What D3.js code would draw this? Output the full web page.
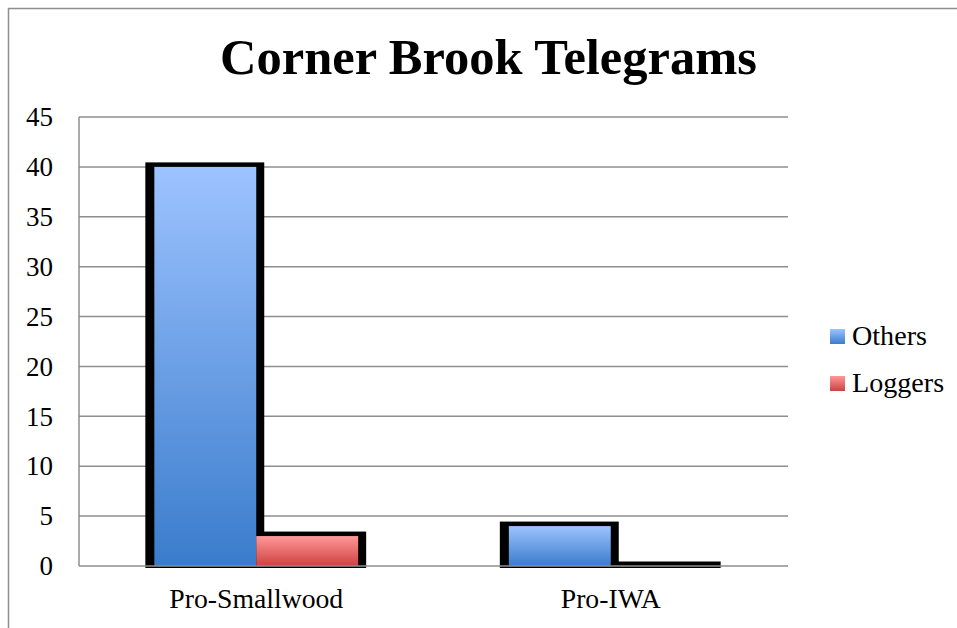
<!DOCTYPE html>
<html>
<head>
<meta charset="utf-8">
<script src="https://cdn.jsdelivr.net/npm/d3@7/dist/d3.min.js"></script>
<style>
  html, body { margin: 0; padding: 0; background: #fff; }
  svg { display: block; }
  text { font-family: "Liberation Serif", "DejaVu Serif", serif; fill: #000; }
</style>
</head>
<body>
<svg id="chart" width="957" height="628"></svg>
<script>
const title = "Corner Brook Telegrams";
const categories = ["Pro-Smallwood", "Pro-IWA"];
const seriesNames = ["Others", "Loggers"];
const othersValues = [40, 4];
const loggersValues = [3, 0];
const yTicks = [0, 5, 10, 15, 20, 25, 30, 35, 40, 45];

const seriesValues = [othersValues, loggersValues];
const data = categories.map((c, i) => ({
  category: c,
  values: seriesNames.map((s, j) => ({ series: s, value: seriesValues[j][i] }))
}));

const svg = d3.select("#chart");
const plot = { left: 79, right: 788, top: 117, bottom: 566 };

// gradients
const defs = svg.append("defs");
const gradStops = {
  Others: ["#9dc3ff", "#3a7ccc"],
  Loggers: ["#ff9898", "#cf4141"]
};
seriesNames.forEach(s => {
  const g = defs.append("linearGradient").attr("id", "grad-" + s)
    .attr("x1", 0).attr("y1", 0).attr("x2", 0).attr("y2", 1);
  g.append("stop").attr("offset", "0%").attr("stop-color", gradStops[s][0]);
  g.append("stop").attr("offset", "100%").attr("stop-color", gradStops[s][1]);
});

// outer frame
svg.append("rect").attr("x", 8.5).attr("y", 8.5).attr("width", 1200).attr("height", 1200)
  .attr("fill", "none").attr("stroke", "#8e8e8e").attr("stroke-width", 1.5);

// scales
const y = d3.scaleLinear().domain([0, 45]).range([plot.bottom, plot.top]);
const x0 = d3.scaleBand().domain(categories).range([plot.left, plot.right])
  .paddingInner(0.425).paddingOuter(0.2125);
const x1 = d3.scaleBand().domain(seriesNames).range([0, x0.bandwidth()]);

// gridlines (except zero line, drawn on top)
svg.append("g").selectAll("line").data(yTicks.filter(t => t !== 0)).join("line")
  .attr("x1", plot.left).attr("x2", plot.right)
  .attr("y1", d => y(d)).attr("y2", d => y(d))
  .attr("stroke", "#8e8e8e").attr("stroke-width", 1.5);

// y axis line
svg.append("line").attr("x1", plot.left).attr("x2", plot.left)
  .attr("y1", plot.top).attr("y2", plot.bottom)
  .attr("stroke", "#8e8e8e").attr("stroke-width", 1.5);

// bars: black borders first
const groups = svg.append("g").selectAll("g").data(data).join("g")
  .attr("transform", d => `translate(${x0(d.category)},0)`);

groups.selectAll("rect.border").data(d => d.values).join("rect")
  .attr("class", "border")
  .attr("x", d => x1(d.series) - 9)
  .attr("y", d => y(d.value) - 4.5)
  .attr("width", x1.bandwidth() + 17)
  .attr("height", d => y(0) - y(d.value) + 6.5)
  .attr("fill", "#000");

groups.selectAll("rect.fill").data(d => d.values).join("rect")
  .attr("class", "fill")
  .attr("x", d => x1(d.series))
  .attr("y", d => y(d.value))
  .attr("width", x1.bandwidth())
  .attr("height", d => y(0) - y(d.value))
  .attr("fill", d => `url(#grad-${d.series})`);

// zero line on top
svg.append("line").attr("x1", plot.left).attr("x2", plot.right)
  .attr("y1", y(0)).attr("y2", y(0))
  .attr("stroke", "#8e8e8e").attr("stroke-width", 1.5);

// helper to fit font size to a target width
function fitSize(sampleText, target, base, weight) {
  const t = svg.append("text").attr("font-size", base)
    .attr("font-weight", weight || "normal").text(sampleText);
  const w = t.node().getComputedTextLength();
  t.remove();
  return base * target / w;
}

// y tick labels
const tickSize = fitSize("40", 27, 24);
svg.append("g").selectAll("text").data(yTicks).join("text")
  .attr("x", 53).attr("y", d => y(d))
  .attr("dy", "0.34em")
  .attr("text-anchor", "end")
  .attr("font-size", tickSize)
  .text(d => d);

// category labels
const catSize = fitSize("Pro-Smallwood", 174, 24);
svg.append("g").selectAll("text").data(categories).join("text")
  .attr("x", d => x0(d) + x0.bandwidth() / 2)
  .attr("y", 608)
  .attr("text-anchor", "middle")
  .attr("font-size", catSize)
  .text(d => d);

// title
const titleSize = fitSize(title, 537, 44, "bold");
svg.append("text").attr("x", 488.5).attr("y", 74)
  .attr("text-anchor", "middle")
  .attr("font-weight", "bold")
  .attr("font-size", titleSize)
  .text(title);

// legend
const legSize = fitSize("Others", 75, 22);
const legend = svg.append("g").selectAll("g").data(seriesNames).join("g")
  .attr("transform", (d, i) => `translate(830,${329 + i * 47})`);
legend.append("rect").attr("width", 15).attr("height", 15)
  .attr("fill", d => `url(#grad-${d})`);
legend.append("text").attr("x", 22).attr("y", 16)
  .attr("font-size", legSize)
  .text(d => d);
</script>
</body>
</html>
